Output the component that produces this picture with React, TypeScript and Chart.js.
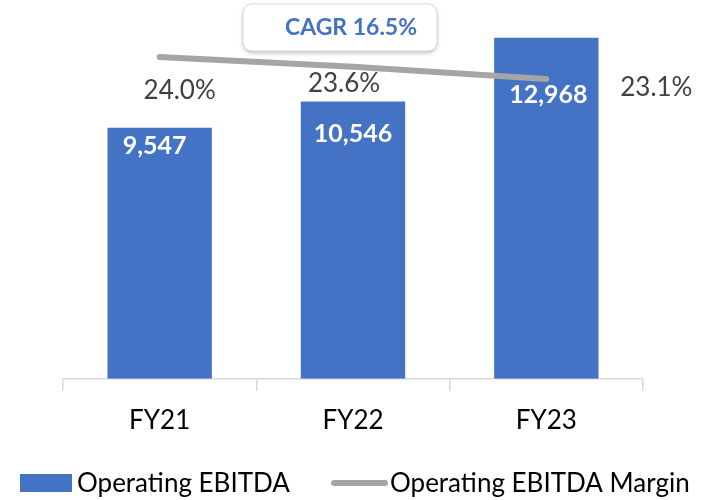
import React, { useEffect, useRef } from "react";
import { Chart, registerables } from "chart.js";

Chart.register(...registerables);

const categories = ["FY21", "FY22", "FY23"];
const ebitda = [9547, 10546, 12968];
const margin = [24.0, 23.6, 23.1];
const ebitdaLabels = ["9,547", "10,546", "12,968"];
const marginLabels = ["24.0%", "23.6%", "23.1%"];
const cagrText = "CAGR 16.5%";
const legendLabels = ["Operating EBITDA", "Operating EBITDA Margin"];

// label offsets (px) relative to bar tops / line points
const barLabelDx = [-5, 0, 2];
const barLabelDy = [18, 32, 57];
const marginLabelDx = [20, -9, 110];
const marginLabelDy = [34, 17, 9];

const BLUE = "#4472C4";
const GRAY = "#A5A5A5";
const FONT = "Lato, 'Open Sans', sans-serif";

const overlay = {
  id: "overlay",
  afterDatasetsDraw(chart: any) {
    const ctx = chart.ctx;
    const xs = chart.scales.x;
    const ys = chart.scales.y;
    const y2 = chart.scales.y2;
    ctx.save();
    ctx.textAlign = "center";
    ctx.textBaseline = "middle";
    // bar labels
    ctx.fillStyle = "#FFFFFF";
    ctx.font = `bold 25px ${FONT}`;
    ebitda.forEach((v, i) => {
      const x = xs.getPixelForValue(i) + barLabelDx[i];
      const y = ys.getPixelForValue(v) + barLabelDy[i];
      ctx.fillText(ebitdaLabels[i], x, y);
    });
    // margin labels
    ctx.fillStyle = "#404040";
    ctx.font = `26px ${FONT}`;
    margin.forEach((v, i) => {
      const x = xs.getPixelForValue(i) + marginLabelDx[i];
      const y = y2.getPixelForValue(v) + marginLabelDy[i];
      ctx.fillText(marginLabels[i], x, y);
    });
    // CAGR box
    const bx = 243, by = 4, bw = 194, bh = 47;
    ctx.shadowColor = "rgba(0,0,0,0.25)";
    ctx.shadowBlur = 4;
    ctx.shadowOffsetY = 2;
    ctx.fillStyle = "#FFFFFF";
    ctx.beginPath();
    ctx.roundRect(bx, by, bw, bh, 9);
    ctx.fill();
    ctx.shadowColor = "transparent";
    ctx.strokeStyle = "#D9D9D9";
    ctx.lineWidth = 1;
    ctx.stroke();
    ctx.fillStyle = BLUE;
    ctx.font = `bold 23px ${FONT}`;
    ctx.fillText(cagrText, bx + bw / 2 + 11, by + 24);
    // legend
    ctx.textAlign = "left";
    ctx.fillStyle = BLUE;
    ctx.fillRect(20, 474, 52, 18);
    ctx.fillStyle = "#000000";
    ctx.font = `26px ${FONT}`;
    ctx.fillText(legendLabels[0], 77, 484);
    ctx.strokeStyle = GRAY;
    ctx.lineWidth = 6;
    ctx.lineCap = "round";
    ctx.beginPath();
    ctx.moveTo(334, 483);
    ctx.lineTo(385, 483);
    ctx.stroke();
    ctx.fillText(legendLabels[1], 390, 484);
    ctx.restore();
  },
};

export default function App() {
  const ref = useRef<HTMLCanvasElement>(null);
  useEffect(() => {
    document.body.style.margin = "0";
    const chart = new Chart(ref.current as HTMLCanvasElement, {
      type: "bar",
      data: {
        labels: categories,
        datasets: [
          {
            type: "line",
            label: legendLabels[1],
            data: margin,
            yAxisID: "y2",
            borderColor: GRAY,
            borderWidth: 6,
            borderCapStyle: "round",
            pointRadius: 0,
            tension: 0,
            order: 0,
          } as any,
          {
            type: "bar",
            label: legendLabels[0],
            data: ebitda,
            yAxisID: "y",
            backgroundColor: BLUE,
            barPercentage: 0.54,
            categoryPercentage: 1,
            order: 1,
          },
        ],
      },
      options: {
        responsive: false,
        animation: false,
        layout: { padding: { left: 63, right: 82, top: 37, bottom: 50 } },
        plugins: { legend: { display: false }, tooltip: { enabled: false } },
        scales: {
          x: {
            offset: true,
            grid: { display: true, drawOnChartArea: false, offset: true, tickLength: 12, color: "#D9D9D9", lineWidth: 1.5 },
            border: { color: "#D9D9D9", width: 1.5 },
            ticks: { color: "#000000", font: { family: FONT, size: 26 }, padding: 14 },
          },
          y: { display: false, min: 0, max: 13000 },
          y2: { display: false, min: 10.8, max: 24.82 },
        },
      },
      plugins: [overlay],
    });
    return () => chart.destroy();
  }, []);
  return <canvas ref={ref} width={725} height={500} />;
}
